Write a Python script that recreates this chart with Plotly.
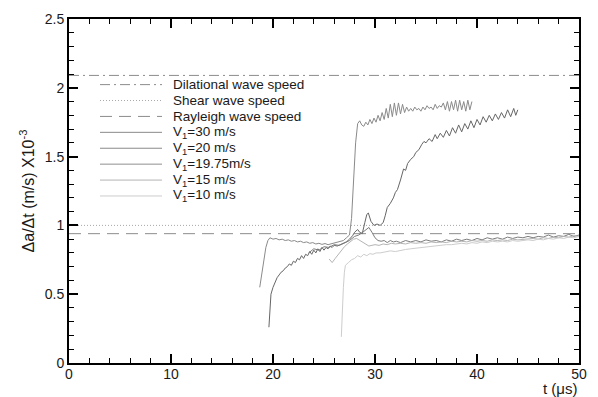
import plotly.graph_objects as go

# ---- reference wave speeds (Δa/Δt, ×10^-3 m/s) ----
ref_names = ["Dilational wave speed", "Shear wave speed", "Rayleigh wave speed"]
ref_values = [2.09, 1.0, 0.94]
ref_t = [0, 50]

# ---- series: V1 = 30 m/s ----
t30 = [18.7, 18.9, 19.1, 19.3, 19.5, 19.7, 20.0, 20.3, 20.6, 20.9, 21.2, 21.5, 21.8, 22.1, 22.4,
       22.7, 23.0, 23.3, 23.6, 23.9, 24.2, 24.5, 24.8, 25.1, 25.4, 25.7, 26.0, 26.3, 26.6, 26.9,
       27.2, 27.5, 27.7, 27.9, 28.1, 28.3, 28.5, 28.7, 28.9, 29.1, 29.3, 29.5, 29.7, 29.9, 30.1,
       30.3, 30.5, 30.7, 30.9, 31.1, 31.3, 31.5, 31.7, 31.9, 32.1, 32.3, 32.5, 32.7, 32.9, 33.1,
       33.3, 33.5, 33.7, 33.9, 34.1, 34.3, 34.5, 34.7, 34.9, 35.1, 35.3, 35.5, 35.7, 35.9, 36.1,
       36.3, 36.5, 36.7, 36.9, 37.1, 37.3, 37.5, 37.7, 37.9, 38.1, 38.3, 38.5, 38.7, 38.9, 39.1,
       39.3, 39.5]
v30 = [0.55, 0.66, 0.76, 0.84, 0.89, 0.91, 0.90, 0.905, 0.895, 0.90, 0.89, 0.895, 0.885, 0.89, 0.88,
       0.885, 0.875, 0.88, 0.87, 0.875, 0.865, 0.87, 0.862, 0.868, 0.86, 0.866, 0.87, 0.875, 0.88, 0.89,
       0.91, 0.93, 1.05, 1.35, 1.60, 1.74, 1.76, 1.73, 1.72, 1.75, 1.73, 1.77, 1.74, 1.78, 1.75,
       1.80, 1.76, 1.82, 1.77, 1.85, 1.78, 1.88, 1.79, 1.89, 1.80, 1.89, 1.81, 1.88, 1.82, 1.86,
       1.83, 1.85, 1.83, 1.86, 1.84, 1.85, 1.83, 1.86, 1.84, 1.87, 1.85, 1.86, 1.84, 1.88, 1.85,
       1.87, 1.86, 1.89, 1.84, 1.90, 1.83, 1.90, 1.84, 1.91, 1.83, 1.91, 1.84, 1.90, 1.83, 1.91,
       1.84, 1.90]

# ---- series: V1 = 20 m/s ----
t20 = [19.6, 19.7, 19.8, 20.0, 20.2, 20.4, 20.6, 20.8, 21.0, 21.2, 21.4, 21.6, 21.8, 22.0, 22.2,
       22.4, 22.6, 22.8, 23.0, 23.2, 23.4, 23.6, 23.8, 24.0, 24.2, 24.4, 24.6, 24.8, 25.0, 25.2,
       25.4, 25.6, 25.8, 26.0, 26.3, 26.6, 26.9, 27.2, 27.5, 27.8, 28.0, 28.3, 28.5, 28.75, 29.0,
       29.2, 29.35, 29.6, 29.9, 30.2, 30.5, 30.8, 31.0, 31.2, 31.5, 31.8, 32.0, 32.2, 32.5, 32.8,
       33.0, 33.2, 33.5, 33.8, 34.0, 34.3, 34.6, 34.8, 35.0, 35.3, 35.6, 35.9, 36.1, 36.4, 36.7,
       37.0, 37.3, 37.6, 37.9, 38.2, 38.5, 38.8, 39.1, 39.4, 39.7, 40.0, 40.3, 40.6, 40.9, 41.2,
       41.5, 41.8, 42.1, 42.4, 42.7, 43.0, 43.3, 43.6, 43.8, 44.0]
v20 = [0.26, 0.42, 0.50, 0.55, 0.59, 0.62, 0.64, 0.66, 0.67, 0.69, 0.70, 0.72, 0.71, 0.74, 0.73,
       0.76, 0.75, 0.78, 0.76, 0.79, 0.78, 0.81, 0.79, 0.82, 0.80, 0.83, 0.81, 0.84, 0.82, 0.84,
       0.83, 0.85, 0.84, 0.855, 0.85, 0.86, 0.87, 0.88, 0.90, 0.925, 0.95, 0.97, 0.95, 0.94, 1.02,
       1.08, 1.09, 1.03, 1.00, 1.01, 1.00, 1.02, 1.07, 1.13, 1.16, 1.20, 1.24, 1.26, 1.33, 1.41,
       1.40, 1.45, 1.48, 1.50, 1.53, 1.55, 1.59, 1.61, 1.60, 1.63, 1.61, 1.66, 1.63, 1.67, 1.64,
       1.69, 1.65, 1.71, 1.67, 1.73, 1.68, 1.74, 1.70, 1.76, 1.71, 1.77, 1.73, 1.79, 1.75, 1.80,
       1.76, 1.81, 1.77, 1.82, 1.78, 1.84, 1.79, 1.85, 1.80, 1.84]

# ---- series: V1 = 19.75 m/s ----
t1975 = [23.5, 24.0, 24.5, 25.0, 25.5, 26.0, 26.5, 27.0, 27.5, 28.0, 28.4, 28.8, 29.1, 29.4, 29.7,
         30.0, 30.3, 30.6, 30.9, 31.2, 31.5, 31.8, 32.1, 32.5, 33.0, 33.5, 34.0, 34.5, 35.0, 35.5,
         36.0, 36.5, 37.0, 37.5, 38.0, 38.5, 39.0, 39.5, 40.0, 40.5, 41.0, 41.5, 42.0, 42.5, 43.0,
         43.5, 44.0, 44.5, 45.0, 45.5, 46.0, 46.5, 47.0, 47.5, 48.0, 48.5, 49.0, 49.5, 50.0]
v1975 = [0.80, 0.83, 0.82, 0.845, 0.84, 0.86, 0.855, 0.875, 0.89, 0.92, 0.93, 0.95, 0.97, 0.985, 0.95,
         0.91, 0.89, 0.885, 0.89, 0.875, 0.89, 0.88, 0.885, 0.875, 0.89, 0.88, 0.89, 0.88, 0.895, 0.885,
         0.89, 0.88, 0.895, 0.885, 0.90, 0.89, 0.90, 0.89, 0.905, 0.895, 0.91, 0.90, 0.91, 0.90, 0.915,
         0.905, 0.915, 0.91, 0.92, 0.91, 0.92, 0.915, 0.93, 0.915, 0.925, 0.92, 0.935, 0.92, 0.93]

# ---- series: V1 = 15 m/s ----
t15 = [25.5, 25.8, 26.1, 26.4, 26.7, 27.0, 27.3, 27.6, 27.9, 28.2, 28.5, 28.8, 29.1, 29.4, 29.7,
       30.0, 30.4, 30.8, 31.2, 31.6, 32.0, 32.5, 33.0, 33.5, 34.0, 34.5, 35.0, 35.5, 36.0, 36.5,
       37.0, 37.5, 38.0, 38.5, 39.0, 39.5, 40.0, 40.5, 41.0, 41.5, 42.0, 42.5, 43.0, 43.5, 44.0,
       44.5, 45.0, 45.5, 46.0, 46.5, 47.0, 47.5, 48.0, 48.5, 49.0, 49.5, 50.0]
v15 = [0.756, 0.73, 0.76, 0.79, 0.82, 0.845, 0.865, 0.88, 0.90, 0.905, 0.89, 0.875, 0.86, 0.85, 0.855,
       0.86, 0.855, 0.865, 0.86, 0.87, 0.865, 0.87, 0.865, 0.875, 0.87, 0.875, 0.87, 0.88, 0.875, 0.88,
       0.875, 0.885, 0.88, 0.885, 0.88, 0.89, 0.885, 0.89, 0.885, 0.895, 0.89, 0.895, 0.89, 0.90, 0.895,
       0.90, 0.90, 0.905, 0.90, 0.91, 0.905, 0.915, 0.91, 0.92, 0.915, 0.925, 0.92]

# ---- series: V1 = 10 m/s ----
t10 = [26.7, 26.8, 26.9, 27.0, 27.1, 27.4, 27.7, 28.0, 28.3, 28.6, 28.9, 29.2, 29.5, 29.8, 30.1,
       30.5, 31.0, 31.5, 32.0, 32.5, 33.0, 33.5, 34.0, 34.5, 35.0, 35.5, 36.0, 36.5, 37.0, 37.5,
       38.0, 38.5, 39.0, 39.5, 40.0, 40.5, 41.0, 41.5, 42.0, 42.5, 43.0, 43.5, 44.0, 44.5, 45.0,
       45.5, 46.0, 46.5, 47.0, 47.5, 48.0, 48.5, 49.0, 49.5, 50.0]
v10 = [0.19, 0.40, 0.55, 0.66, 0.71, 0.73, 0.75, 0.76, 0.78, 0.77, 0.79, 0.78, 0.795, 0.79, 0.80,
       0.80, 0.805, 0.815, 0.81, 0.82, 0.825, 0.83, 0.835, 0.84, 0.845, 0.85, 0.85, 0.855, 0.86, 0.86,
       0.865, 0.87, 0.865, 0.875, 0.87, 0.88, 0.875, 0.885, 0.88, 0.885, 0.88, 0.89, 0.885, 0.89, 0.895,
       0.89, 0.90, 0.895, 0.905, 0.90, 0.91, 0.905, 0.915, 0.91, 0.92]

series_names = ["V<sub>1</sub>=30 m/s", "V<sub>1</sub>=20 m/s", "V<sub>1</sub>=19.75m/s",
                "V<sub>1</sub>=15 m/s", "V<sub>1</sub>=10 m/s"]
series_t = [t30, t20, t1975, t15, t10]
series_v = [v30, v20, v1975, v15, v10]
series_colors = ["#8a8a8a", "#666666", "#7c7c7c", "#b4b4b4", "#cdcdcd"]

ref_colors = ["#8c8c8c", "#a8a8a8", "#8c8c8c"]
ref_dashes = ["10px,4px,2px,4px", "1px,2px", "12px,7px"]

FONT = "Liberation Sans, Arial, Helvetica, sans-serif"

fig = go.Figure()
for name, val, col, dash in zip(ref_names, ref_values, ref_colors, ref_dashes):
    fig.add_trace(go.Scatter(x=ref_t, y=[val, val], mode="lines", name=name, showlegend=False,
                             line=dict(color=col, width=1, dash=dash)))
for name, tt, vv, col in zip(series_names, series_t, series_v, series_colors):
    fig.add_trace(go.Scatter(x=tt, y=vv, mode="lines", name=name, showlegend=False,
                             line=dict(color=col, width=1)))

# ---- key (legend) drawn in plot-paper coordinates ----
# plot area is 510 x 346 px; key rows are 16 px apart
leg_names = ref_names + series_names
leg_colors = ref_colors + ["#8a8a8a", "#8a8a8a", "#8f8f8f", "#b4b4b4", "#cdcdcd"]
leg_dashes = ref_dashes + ["solid"] * 5
PW, PH = 510.0, 346.0
shapes, annotations = [], []
for i, (nm, col, dash) in enumerate(zip(leg_names, leg_colors, leg_dashes)):
    yp = (346 - 66 - 16 * i) / PH
    shapes.append(dict(type="line", xref="paper", yref="paper",
                       x0=31 / PW, x1=93 / PW, y0=yp, y1=yp,
                       line=dict(color=col, width=1, dash=dash)))
    annotations.append(dict(text=nm, xref="paper", yref="paper", x=102 / PW, y=yp,
                            xanchor="left", yanchor="middle", showarrow=False,
                            font=dict(family=FONT, size=13.5, color="#1a1a1a")))

annotations.append(dict(text="t (μs)", xref="paper", yref="paper", x=1.0, y=-0.045,
                        xanchor="right", yanchor="top", showarrow=False,
                        font=dict(family=FONT, size=15, color="#1a1a1a")))

axis_common = dict(
    showline=True, linecolor="black", linewidth=2, mirror="allticks",
    ticks="inside", ticklen=9, tickwidth=2, tickcolor="black",
    showgrid=False, zeroline=False,
    tickfont=dict(family=FONT, size=14, color="#1a1a1a"),
)

# page body has an 8px margin, so the figure is sized to fit the 598x397 window
fig.update_layout(
    width=590, height=389,
    margin=dict(l=61, r=19, t=9, b=34),
    paper_bgcolor="white", plot_bgcolor="white",
    font=dict(family=FONT, size=13, color="#1a1a1a"),
    showlegend=False,
    xaxis=dict(range=[0, 50], tick0=0, dtick=10, ticklabelstandoff=-3,
               minor=dict(ticks="inside", ticklen=5, tickwidth=1, tickcolor="black", dtick=2),
               **axis_common),
    yaxis=dict(range=[0, 2.5], tick0=0, dtick=0.5, automargin=False,
               title=dict(text="Δa/Δt (m/s) X10<sup>-3</sup>", standoff=6,
                          font=dict(family=FONT, size=16, color="#1a1a1a")),
               minor=dict(ticks="inside", ticklen=5, tickwidth=1, tickcolor="black", dtick=0.1),
               **axis_common),
    shapes=shapes,
    annotations=annotations,
)

fig.write_html("out.html")
